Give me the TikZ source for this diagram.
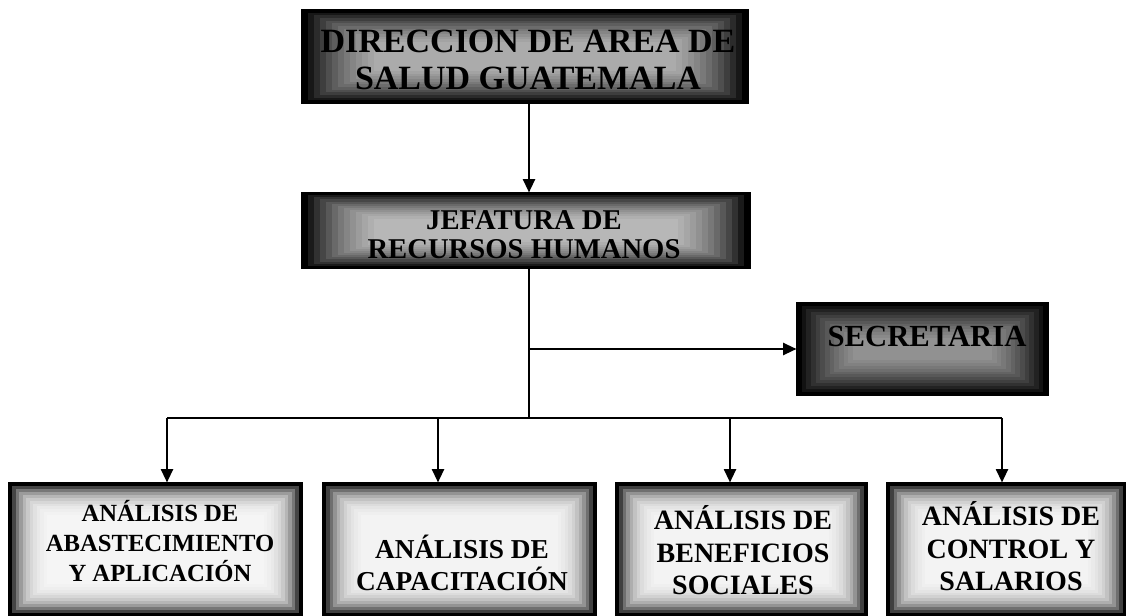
\documentclass[tikz,border=0pt]{standalone}
\usepackage{fontspec}
\setmainfont{Liberation Serif}
\usetikzlibrary{arrows.meta}
\newcommand\mlines[1]{\begin{tabular}{@{}c@{}}#1\end{tabular}}
\tikzset{
  orgbox/.style={draw=black, line width=0.8pt, fill=black, inner sep=0pt},
  txt/.style={inner sep=0pt, text=black},
  glow/.style n args={4}{path picture={
    \foreach \i in {1,...,#4}{
      \fill[white, opacity=#1]
        ([xshift=\i*#2, yshift=\i*#3]path picture bounding box.south west)
        rectangle
        ([xshift=-\i*#2, yshift=-\i*#3]path picture bounding box.north east);
    }}},
  conn/.style={line width=1.6pt},
  arr/.style={line width=1.6pt, -{Triangle[length=10pt,width=9pt]}},
}
\begin{document}
\begin{tikzpicture}[x=0.75pt, y=-0.75pt]
\useasboundingbox (0,0) rectangle (1126,616);
% boxes
\node[orgbox, glow={0.09}{4.5pt}{2pt}{12}, minimum width=334.5pt, minimum height=69.75pt] (dir) at (525,56.5) {};
\node[orgbox, glow={0.1}{4.5pt}{1.6pt}{12}, minimum width=336pt, minimum height=56.25pt] (jef) at (526,230.5) {};
\node[orgbox, glow={0.07}{3.5pt}{2.2pt}{12}, minimum width=188.25pt, minimum height=69pt] (sec) at (922.5,349) {};
\node[orgbox, glow={0.27}{2.6pt}{2.2pt}{11}, minimum width=219.75pt, minimum height=99.75pt] (b1) at (155.5,549.5) {};
\node[orgbox, glow={0.25}{2.6pt}{2.2pt}{11}, minimum width=204.75pt, minimum height=99.75pt] (b2) at (459.5,549.5) {};
\node[orgbox, glow={0.25}{2.6pt}{2.2pt}{11}, minimum width=188.25pt, minimum height=99.75pt] (b3) at (741.5,549.5) {};
\node[orgbox, glow={0.25}{2.6pt}{2.2pt}{11}, minimum width=179.25pt, minimum height=99.75pt] (b4) at (1006.5,549.5) {};
% texts
\node[txt, font=\bfseries\fontsize{25.5}{27.75}\selectfont] (dirt) at (528,64)
  {\mlines{DIRECCION DE AREA DE\\SALUD GUATEMALA}};
\node[txt, font=\bfseries\fontsize{21.5}{22}\selectfont] (jeft) at (524,238)
  {\mlines{JEFATURA DE\\RECURSOS HUMANOS}};
\node[txt, font=\bfseries\fontsize{23}{24}\selectfont] (sect) at (927,340)
  {\mlines{SECRETARIA}};
\node[txt, font=\bfseries\fontsize{18.5}{22.5}\selectfont] (b1t) at (160,545)
  {\mlines{ANÁLISIS DE\\ABASTECIMIENTO\\Y APLICACIÓN}};
\node[txt, font=\bfseries\fontsize{20.5}{22.5}\selectfont] (b2t) at (462,567)
  {\mlines{ANÁLISIS DE\\CAPACITACIÓN}};
\node[txt, font=\bfseries\fontsize{21}{24.4}\selectfont] (b3t) at (743,555)
  {\mlines{ANÁLISIS DE\\BENEFICIOS\\SOCIALES}};
\node[txt, font=\bfseries\fontsize{21}{24.4}\selectfont] (b4t) at (1011,551)
  {\mlines{ANÁLISIS DE\\CONTROL Y\\SALARIOS}};
% connectors
\coordinate (j) at (529,418);
\coordinate (s) at (529,349);
\coordinate (a1) at (167,418);
\coordinate (a2) at (438,418);
\coordinate (a3) at (730,418);
\coordinate (a4) at (1002,418);
\draw[arr] (dir.south -| j) -- (jef.north -| j);
\draw[conn] (jef.south -| j) -- (j);
\draw[arr] (s) -- (sec.west);
\draw[conn] (a1) -- (a4);
\draw[arr] (a1) -- (a1 |- b1.north);
\draw[arr] (a2) -- (a2 |- b2.north);
\draw[arr] (a3) -- (a3 |- b3.north);
\draw[arr] (a4) -- (a4 |- b4.north);
\end{tikzpicture}
\end{document}
